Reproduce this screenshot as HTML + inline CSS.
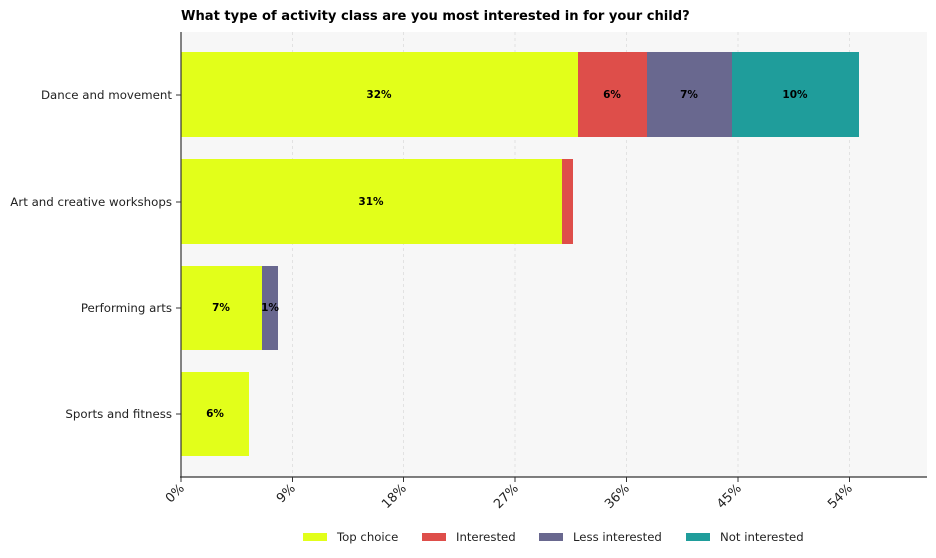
<!DOCTYPE html>
<html><head><meta charset="utf-8"><style>body{margin:0;background:#fff}svg{display:block}text{font-family:"DejaVu Sans","Liberation Sans",sans-serif}</style></head><body>
<svg width="936" height="558" viewBox="0 0 936 558">
<rect x="181" y="32" width="746" height="445" fill="#f7f7f7"/>
<g stroke="#dddddd" stroke-dasharray="3,3" stroke-width="0.8">
<line x1="292.5" y1="32" x2="292.5" y2="477"/><line x1="403.5" y1="32" x2="403.5" y2="477"/><line x1="515" y1="32" x2="515" y2="477"/><line x1="626.5" y1="32" x2="626.5" y2="477"/><line x1="738" y1="32" x2="738" y2="477"/><line x1="849.5" y1="32" x2="849.5" y2="477"/>
</g>
<rect x="181" y="52" width="397" height="85" fill="#e2ff1a"/>
<rect x="578" y="52" width="69" height="85" fill="#de4e4a"/>
<rect x="647" y="52" width="85" height="85" fill="#69688f"/>
<rect x="732" y="52" width="127" height="85" fill="#1f9d9b"/>
<rect x="181" y="159" width="381" height="85" fill="#e2ff1a"/>
<rect x="562" y="159" width="11" height="85" fill="#de4e4a"/>
<rect x="181" y="266" width="81" height="84" fill="#e2ff1a"/>
<rect x="262" y="266" width="16" height="84" fill="#69688f"/>
<rect x="181" y="372" width="68" height="84" fill="#e2ff1a"/>
<g font-size="10.5" font-weight="bold" text-anchor="middle" fill="#000">
<text x="379" y="98">32%</text><text x="612" y="98">6%</text><text x="689" y="98">7%</text><text x="795" y="98">10%</text>
<text x="371" y="205">31%</text><text x="221" y="311">7%</text><text x="270" y="311">1%</text><text x="215" y="417">6%</text>
</g>
<line x1="181" y1="32" x2="181" y2="478" stroke="#333" stroke-width="1.2"/>
<line x1="180" y1="477" x2="927" y2="477" stroke="#333" stroke-width="1.2"/>
<g stroke="#333"><line x1="176" y1="95" x2="181" y2="95"/><line x1="176" y1="202" x2="181" y2="202"/><line x1="176" y1="308" x2="181" y2="308"/><line x1="176" y1="414" x2="181" y2="414"/>
<line x1="181" y1="477" x2="181" y2="482"/><line x1="292.5" y1="477" x2="292.5" y2="482"/><line x1="403.5" y1="477" x2="403.5" y2="482"/><line x1="515" y1="477" x2="515" y2="482"/><line x1="626.5" y1="477" x2="626.5" y2="482"/><line x1="738" y1="477" x2="738" y2="482"/><line x1="849.5" y1="477" x2="849.5" y2="482"/></g>
<g font-size="11.8" text-anchor="end" fill="#222">
<text x="172" y="99">Dance and movement</text><text x="172" y="206">Art and creative workshops</text><text x="172" y="312">Performing arts</text><text x="172" y="418">Sports and fitness</text>
</g>
<g font-size="12.8" text-anchor="end" fill="#222">
<text transform="translate(185,489) rotate(-45)">0%</text>
<text transform="translate(296,489) rotate(-45)">9%</text>
<text transform="translate(407,489) rotate(-45)">18%</text>
<text transform="translate(519,489) rotate(-45)">27%</text>
<text transform="translate(630,489) rotate(-45)">36%</text>
<text transform="translate(742,489) rotate(-45)">45%</text>
<text transform="translate(853,489) rotate(-45)">54%</text>
</g>
<text x="181" y="20" font-size="13.1" font-weight="bold" fill="#000">What type of activity class are you most interested in for your child?</text>
<g font-size="11.7" fill="#222">
<rect x="303" y="533" width="24" height="8" fill="#e2ff1a"/><text x="337" y="541">Top choice</text>
<rect x="422" y="533" width="24" height="8" fill="#de4e4a"/><text x="456" y="541">Interested</text>
<rect x="539" y="533" width="24" height="8" fill="#69688f"/><text x="573" y="541">Less interested</text>
<rect x="686" y="533" width="24" height="8" fill="#1f9d9b"/><text x="720" y="541">Not interested</text>
</g>
</svg>
</body></html>
